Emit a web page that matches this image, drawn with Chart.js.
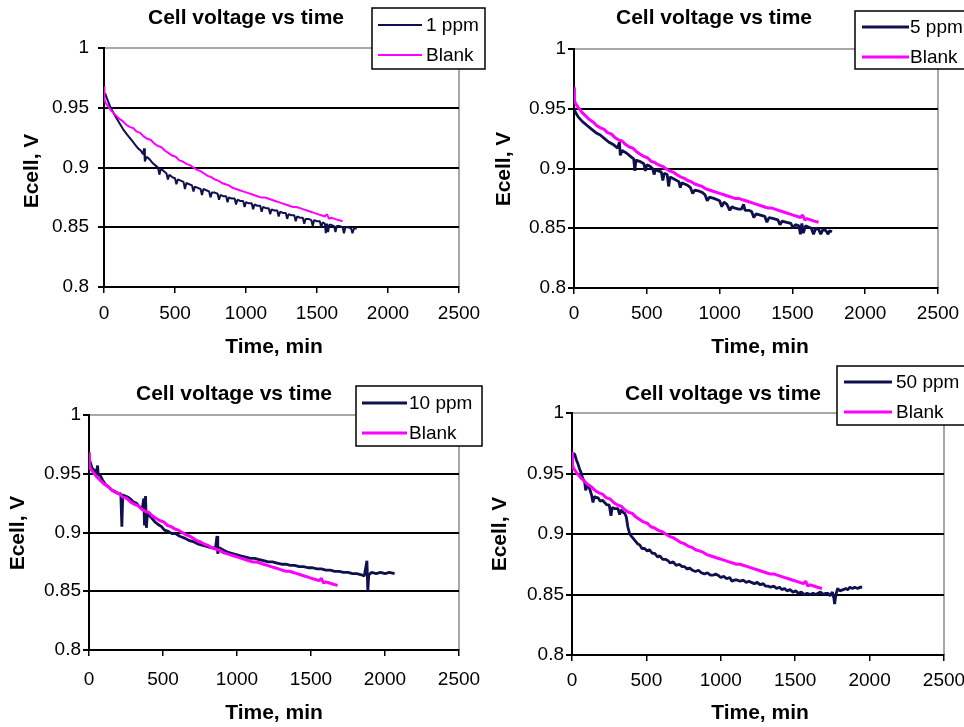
<!DOCTYPE html>
<html>
<head>
<meta charset="utf-8">
<script src="https://cdn.jsdelivr.net/npm/chart.js@4"></script>
<style>
  html, body { margin: 0; padding: 0; background: #fff; }
  #wrap { position: relative; width: 964px; height: 727px; overflow: hidden; }
  #wrap canvas { position: absolute; left: 0; top: 0; }
</style>
</head>
<body>
<div id="wrap">
  <canvas id="c1" width="964" height="727"></canvas>
  <canvas id="c2" width="964" height="727"></canvas>
  <canvas id="c3" width="964" height="727"></canvas>
  <canvas id="c4" width="964" height="727"></canvas>
</div>
<script>
// ---- Tick labels ----
const timeTicks = [0, 500, 1000, 1500, 2000, 2500];
const voltTicks = [0.8, 0.85, 0.9, 0.95, 1];

// ---- Blank run (same reference curve in every panel) ----
const blankTime = [0, 3, 12, 30, 55, 80, 105, 130, 155, 180,
  205, 230, 255, 280, 305, 330, 355, 380, 405, 430,
  455, 480, 505, 530, 555, 580, 605, 630, 655, 680,
  705, 730, 755, 780, 805, 830, 855, 880, 905, 930,
  955, 980, 1005, 1030, 1055, 1080, 1105, 1130, 1155, 1180,
  1205, 1230, 1255, 1280, 1305, 1330, 1355, 1380, 1405, 1430,
  1455, 1480, 1505, 1530, 1555, 1570, 1585, 1600, 1625, 1650, 1680];
const blankVolt = [0.968, 0.957, 0.954, 0.951, 0.947, 0.944, 0.941, 0.939, 0.936, 0.934,
  0.933, 0.930, 0.929, 0.926, 0.924, 0.923, 0.920, 0.918, 0.917, 0.914,
  0.912, 0.910, 0.909, 0.906, 0.905, 0.903, 0.902, 0.900, 0.898, 0.897,
  0.895, 0.893, 0.892, 0.890, 0.889, 0.887, 0.886, 0.885, 0.883, 0.882,
  0.881, 0.880, 0.879, 0.878, 0.877, 0.876, 0.875, 0.875, 0.874, 0.873,
  0.872, 0.871, 0.870, 0.869, 0.868, 0.867, 0.867, 0.866, 0.865, 0.864,
  0.863, 0.862, 0.861, 0.860, 0.859, 0.861, 0.857, 0.858, 0.857, 0.856, 0.855];

// ---- 1 ppm ----
const ppm1Time = [0, 8, 20, 40, 60, 80, 100, 120, 140, 160,
  180, 200, 220, 240, 260, 275, 282, 288, 300, 320,
  340, 360, 380, 390, 400, 420, 440, 450, 460, 480,
  500, 510, 520, 540, 560, 570, 580, 600, 620, 630,
  640, 660, 680, 690, 700, 720, 740, 750, 760, 780,
  800, 810, 820, 840, 860, 870, 880, 900, 920, 930,
  940, 960, 980, 990, 1000, 1020, 1040, 1050, 1060, 1080,
  1100, 1110, 1120, 1140, 1160, 1170, 1180, 1200, 1220, 1230,
  1240, 1260, 1280, 1290, 1300, 1320, 1340, 1350, 1360, 1380,
  1400, 1410, 1420, 1440, 1460, 1470, 1480, 1500, 1520, 1530,
  1540, 1555, 1562, 1570, 1578, 1586, 1600, 1620, 1630, 1640,
  1660, 1680, 1690, 1700, 1720, 1740, 1750, 1760, 1780];
const ppm1Volt = [0.958, 0.962, 0.958, 0.952, 0.947, 0.943, 0.939, 0.935, 0.931, 0.928,
  0.925, 0.922, 0.919, 0.916, 0.914, 0.911, 0.916, 0.905, 0.909, 0.907,
  0.904, 0.902, 0.900, 0.894, 0.899, 0.897, 0.895, 0.890, 0.894, 0.892,
  0.891, 0.886, 0.890, 0.889, 0.888, 0.882, 0.887, 0.886, 0.885, 0.880,
  0.884, 0.883, 0.882, 0.877, 0.882, 0.881, 0.880, 0.875, 0.879, 0.879,
  0.878, 0.873, 0.877, 0.876, 0.876, 0.871, 0.875, 0.874, 0.874, 0.869,
  0.873, 0.872, 0.872, 0.867, 0.871, 0.870, 0.870, 0.865, 0.869, 0.868,
  0.868, 0.863, 0.867, 0.866, 0.866, 0.861, 0.865, 0.864, 0.864, 0.859,
  0.863, 0.862, 0.862, 0.857, 0.861, 0.860, 0.860, 0.855, 0.859, 0.858,
  0.858, 0.853, 0.857, 0.857, 0.856, 0.851, 0.856, 0.855, 0.855, 0.850,
  0.854, 0.853, 0.845, 0.853, 0.846, 0.852, 0.852, 0.851, 0.846, 0.851,
  0.851, 0.850, 0.845, 0.850, 0.850, 0.849, 0.845, 0.849, 0.849];

// ---- 5 ppm ----
const ppm5Time = [0, 10, 30, 60, 90, 120, 150, 180, 210, 240,
  270, 300, 312, 318, 330, 360, 390, 410, 418, 425,
  450, 480, 490, 500, 520, 540, 550, 560, 580, 600,
  610, 620, 640, 650, 660, 690, 720, 730, 740, 760,
  780, 800, 815, 830, 860, 880, 900, 915, 930, 960,
  980, 1000, 1015, 1030, 1050, 1070, 1085, 1100, 1130, 1150,
  1165, 1175, 1200, 1220, 1235, 1250, 1280, 1310, 1325, 1340,
  1370, 1400, 1415, 1430, 1460, 1490, 1505, 1520, 1545, 1555,
  1565, 1575, 1590, 1610, 1630, 1645, 1660, 1680, 1695, 1710,
  1730, 1745, 1755, 1772];
const ppm5Volt = [0.950, 0.947, 0.943, 0.939, 0.936, 0.933, 0.930, 0.928, 0.925, 0.922,
  0.920, 0.917, 0.922, 0.911, 0.915, 0.913, 0.910, 0.908, 0.898, 0.907,
  0.906, 0.904, 0.898, 0.903, 0.902, 0.900, 0.895, 0.899, 0.898, 0.897,
  0.890, 0.896, 0.895, 0.885, 0.893, 0.891, 0.889, 0.884, 0.888, 0.887,
  0.886, 0.884, 0.879, 0.882, 0.881, 0.880, 0.878, 0.873, 0.876, 0.875,
  0.874, 0.873, 0.868, 0.872, 0.870, 0.865, 0.868, 0.867, 0.866, 0.866,
  0.870, 0.865, 0.865, 0.864, 0.859, 0.862, 0.861, 0.860, 0.855, 0.859,
  0.858, 0.857, 0.853, 0.856, 0.855, 0.854, 0.850, 0.853, 0.852, 0.845,
  0.854, 0.846, 0.852, 0.851, 0.850, 0.845, 0.850, 0.849, 0.845, 0.849,
  0.848, 0.845, 0.848, 0.847];

// ---- 10 ppm ----
const ppm10Time = [0, 8, 20, 35, 50, 58, 63, 70, 90, 110,
  130, 155, 175, 200, 215, 222, 228, 245, 265, 285,
  300, 320, 340, 360, 370, 375, 382, 388, 395, 410,
  425, 445, 465, 490, 510, 535, 560, 585, 610, 630,
  650, 680, 710, 740, 770, 800, 830, 855, 865, 870,
  880, 910, 940, 970, 1000, 1030, 1060, 1090, 1120, 1150,
  1180, 1210, 1240, 1270, 1300, 1330, 1360, 1390, 1420, 1450,
  1480, 1510, 1540, 1570, 1600, 1630, 1660, 1690, 1720, 1750,
  1780, 1810, 1840, 1860, 1878, 1884, 1890, 1910, 1940, 1970,
  2000, 2030, 2065];
const ppm10Volt = [0.963, 0.960, 0.955, 0.953, 0.951, 0.957, 0.948, 0.950, 0.945, 0.941,
  0.939, 0.936, 0.935, 0.933, 0.933, 0.905, 0.932, 0.931, 0.930, 0.928,
  0.926, 0.925, 0.922, 0.920, 0.929, 0.906, 0.931, 0.904, 0.918, 0.914,
  0.912, 0.909, 0.907, 0.905, 0.902, 0.901, 0.899, 0.899, 0.897, 0.896,
  0.895, 0.893, 0.892, 0.890, 0.889, 0.888, 0.887, 0.887, 0.897, 0.882,
  0.887, 0.885, 0.883, 0.882, 0.881, 0.880, 0.879, 0.878, 0.878, 0.877,
  0.876, 0.875, 0.875, 0.874, 0.873, 0.873, 0.872, 0.872, 0.871, 0.871,
  0.870, 0.870, 0.869, 0.869, 0.868, 0.868, 0.867, 0.867, 0.866, 0.866,
  0.865, 0.865, 0.864, 0.863, 0.876, 0.850, 0.864, 0.866, 0.865, 0.866,
  0.865, 0.866, 0.865];

// ---- 50 ppm ----
const ppm50Time = [2, 18, 30, 40, 50, 60, 72, 85, 92, 100,
  110, 120, 132, 141, 150, 165, 175, 190, 205, 219,
  235, 250, 262, 270, 285, 300, 309, 320, 330, 343,
  355, 365, 375, 388, 400, 421, 440, 455, 470, 488,
  505, 520, 540, 556, 575, 590, 610, 630, 645, 660,
  680, 700, 720, 740, 757, 775, 790, 810, 830, 850,
  869, 890, 910, 930, 950, 965, 981, 1000, 1020, 1040,
  1060, 1075, 1093, 1110, 1130, 1150, 1170, 1190, 1205, 1225,
  1245, 1265, 1285, 1300, 1317, 1335, 1355, 1375, 1395, 1410,
  1429, 1445, 1465, 1485, 1505, 1520, 1541, 1560, 1580, 1600,
  1620, 1640, 1653, 1670, 1690, 1705, 1720, 1735, 1750, 1760,
  1765, 1772, 1785, 1800, 1823, 1840, 1855, 1868, 1885, 1900,
  1920, 1935, 1950];
const ppm50Volt = [0.967, 0.966, 0.961, 0.958, 0.954, 0.951, 0.946, 0.943, 0.936, 0.940,
  0.939, 0.937, 0.932, 0.926, 0.931, 0.930, 0.930, 0.927, 0.928, 0.926,
  0.924, 0.924, 0.915, 0.922, 0.921, 0.921, 0.921, 0.916, 0.920, 0.918,
  0.917, 0.914, 0.906, 0.900, 0.898, 0.895, 0.892, 0.891, 0.888, 0.888,
  0.886, 0.887, 0.884, 0.884, 0.881, 0.882, 0.879, 0.879, 0.878, 0.876,
  0.877, 0.874, 0.875, 0.873, 0.873, 0.871, 0.872, 0.870, 0.869, 0.870,
  0.868, 0.867, 0.868, 0.866, 0.866, 0.867, 0.866, 0.864, 0.865, 0.863,
  0.864, 0.861, 0.862, 0.862, 0.861, 0.862, 0.860, 0.861, 0.860, 0.859,
  0.860, 0.858, 0.859, 0.857, 0.857, 0.856, 0.857, 0.855, 0.856, 0.854,
  0.855, 0.853, 0.854, 0.852, 0.853, 0.851, 0.852, 0.850, 0.851, 0.850,
  0.851, 0.850, 0.851, 0.852, 0.850, 0.851, 0.851, 0.849, 0.852, 0.847,
  0.842, 0.849, 0.855, 0.853, 0.854, 0.855, 0.854, 0.856, 0.855, 0.856,
  0.855, 0.856, 0.856];

// ---- Styling and layout of the four panels ----
const FONT = '"Liberation Sans", Arial, Helvetica, sans-serif';
const NAVY = '#10104f';
const MAGENTA = '#ff00ff';

const panels = [
  { id: 'c1', label: '1 ppm', time: ppm1Time, volt: ppm1Volt, lw: 2, blankLw: 2,
    L: 104, R: 459, T: 48, B: 287, yPad: 9, xPad: 9,
    title: [246, 18], yTitle: [32, 171], xTitle: [274, 347],
    legend: { x: 372, y: 8, w: 113, h: 61, l1: 378, l2: 422, tx: 426, rows: [25, 55] } },
  { id: 'c2', label: '5 ppm', time: ppm5Time, volt: ppm5Volt, lw: 2.8, blankLw: 3,
    L: 574, R: 938, T: 49, B: 288, yPad: 2, xPad: 8,
    title: [714, 18], yTitle: [504, 169], xTitle: [760, 347],
    legend: { x: 855, y: 11, w: 130, h: 58, l1: 862, l2: 909, tx: 910, rows: [27, 57] } },
  { id: 'c3', label: '10 ppm', time: ppm10Time, volt: ppm10Volt, lw: 2.8, blankLw: 3,
    L: 89, R: 459, T: 415, B: 650, yPad: 2, xPad: 12,
    title: [234, 394], yTitle: [18, 533], xTitle: [274, 713],
    legend: { x: 356, y: 386, w: 126, h: 60, l1: 362, l2: 407, tx: 409, rows: [403, 433] } },
  { id: 'c4', label: '50 ppm', time: ppm50Time, volt: ppm50Volt, lw: 2.8, blankLw: 3,
    L: 572, R: 944, T: 413, B: 655, yPad: 2, xPad: 8,
    title: [723, 394], yTitle: [500, 534], xTitle: [760, 713],
    legend: { x: 837, y: 366, w: 140, h: 59, l1: 844, l2: 892, tx: 896, rows: [382, 412] } }
];

const Y_AXIS_W = 70;
const X_AXIS_H = 60;

function points(ts, vs) {
  return ts.map((t, i) => ({ x: t, y: vs[i] }));
}

// Plot frame, titles and the boxed legend for one panel
function decor(p) {
  return {
    id: 'decor',
    beforeDraw(chart) {
      const { ctx, chartArea: a } = chart;
      ctx.save();
      ctx.strokeStyle = '#8c8c8c';
      ctx.lineWidth = 1.5;
      ctx.beginPath();
      ctx.moveTo(a.left, a.top);
      ctx.lineTo(a.right, a.top);
      ctx.lineTo(a.right, a.bottom);
      ctx.stroke();
      ctx.restore();
    },
    afterDraw(chart) {
      const ctx = chart.ctx;
      ctx.save();
      ctx.fillStyle = '#000';
      ctx.textBaseline = 'middle';

      // chart title
      ctx.font = 'bold 21px ' + FONT;
      ctx.textAlign = 'center';
      ctx.fillText('Cell voltage vs time', p.title[0], p.title[1]);

      // axis titles
      ctx.fillText('Time, min', p.xTitle[0], p.xTitle[1]);
      ctx.save();
      ctx.translate(p.yTitle[0], p.yTitle[1]);
      ctx.rotate(-Math.PI / 2);
      ctx.fillText('Ecell, V', 0, 0);
      ctx.restore();

      // legend box
      const lg = p.legend;
      ctx.fillStyle = '#fff';
      ctx.fillRect(lg.x, lg.y, lg.w, lg.h);
      ctx.strokeStyle = '#000';
      ctx.lineWidth = 1.5;
      ctx.strokeRect(lg.x, lg.y, lg.w, lg.h);
      ctx.font = '19px ' + FONT;
      ctx.textAlign = 'left';
      chart.data.datasets.forEach((ds, i) => {
        const y = lg.rows[i];
        ctx.strokeStyle = ds.borderColor;
        ctx.lineWidth = ds.borderWidth;
        ctx.beginPath();
        ctx.moveTo(lg.l1, y);
        ctx.lineTo(lg.l2, y);
        ctx.stroke();
        ctx.fillStyle = '#000';
        ctx.fillText(ds.label, lg.tx, y + 1);
      });
      ctx.restore();
    }
  };
}

function buildChart(p) {
  const ctx = document.getElementById(p.id);
  return new Chart(ctx, {
    type: 'line',
    data: {
      datasets: [
        { label: p.label, data: points(p.time, p.volt), borderColor: NAVY,
          borderWidth: p.lw, borderJoinStyle: 'bevel', pointRadius: 0, tension: 0, order: 1 },
        { label: 'Blank', data: points(blankTime, blankVolt), borderColor: MAGENTA,
          borderWidth: p.blankLw, borderJoinStyle: 'bevel', pointRadius: 0, tension: 0, order: 0 }
      ]
    },
    options: {
      responsive: false,
      animation: false,
      events: [],
      layout: {
        padding: {
          left: p.L - Y_AXIS_W,
          top: p.T,
          right: 964 - p.R,
          bottom: 727 - p.B - X_AXIS_H
        }
      },
      plugins: { legend: { display: false }, title: { display: false }, tooltip: { enabled: false } },
      scales: {
        x: {
          type: 'linear',
          min: 0, max: 2500,
          afterBuildTicks: s => { s.ticks = timeTicks.map(v => ({ value: v })); },
          afterFit: s => { s.height = X_AXIS_H; s.paddingLeft = 0; s.paddingRight = 0; },
          ticks: { color: '#000', font: { family: FONT, size: 19 }, padding: p.xPad,
                   maxRotation: 0, autoSkip: false, callback: v => String(v) },
          grid: { drawOnChartArea: false, drawTicks: true, tickLength: 6, color: '#000', lineWidth: 1.5 },
          border: { color: '#000', width: 2 }
        },
        y: {
          type: 'linear',
          min: 0.8, max: 1,
          afterBuildTicks: s => { s.ticks = voltTicks.map(v => ({ value: v })); },
          afterFit: s => { s.width = Y_AXIS_W; s.paddingTop = 0; s.paddingBottom = 0; },
          ticks: { color: '#000', font: { family: FONT, size: 19 }, padding: p.yPad,
                   callback: v => String(Number(v.toFixed(2))) },
          grid: {
            color: c => (c.tick && Math.abs(c.tick.value - 1) < 1e-9) ? 'rgba(0,0,0,0)' : '#000',
            tickColor: '#000',
            lineWidth: 2,
            tickLength: 6
          },
          border: { color: '#000', width: 2 }
        }
      }
    },
    plugins: [decor(p)]
  });
}

panels.forEach(buildChart);
</script>
</body>
</html>
